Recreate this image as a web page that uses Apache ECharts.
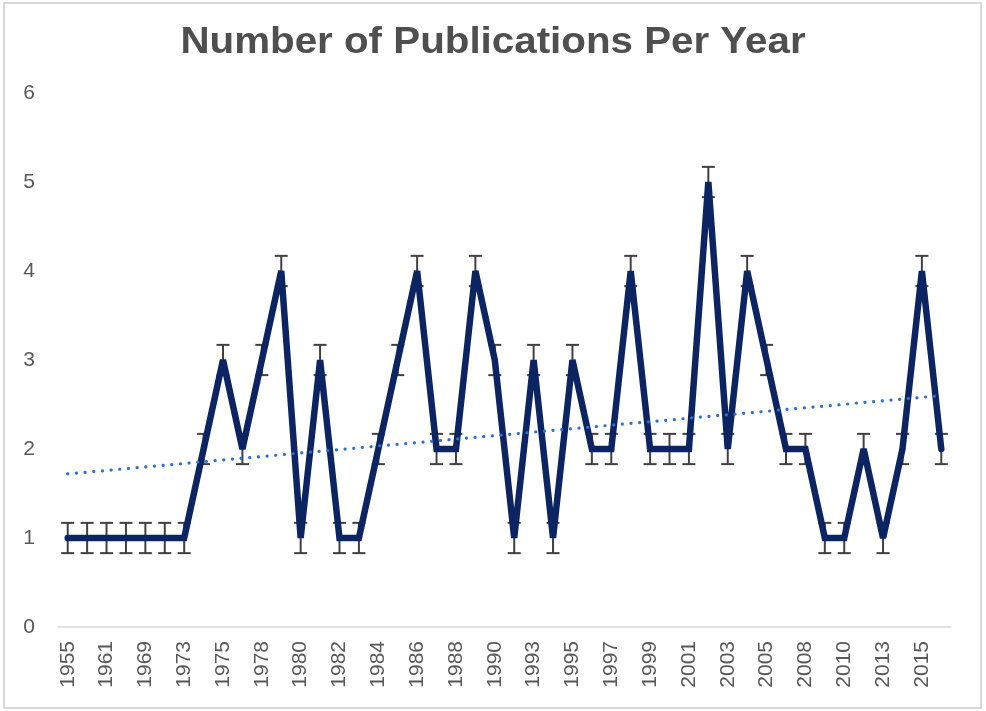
<!DOCTYPE html>
<html>
<head>
<meta charset="utf-8">
<script src="https://cdn.jsdelivr.net/npm/echarts@6/dist/echarts.min.js"></script>
<style>
html,body{margin:0;padding:0;background:#fff;}
#frame{position:absolute;left:3px;top:2px;width:975px;height:703px;border:2px solid #d9d9d9;box-sizing:content-box;}
#chart{position:absolute;left:0;top:0;width:986px;height:711px;}
</style>
</head>
<body>
<div id="frame"></div>
<div id="chart"></div>
<script>
// Categories (years); labels shown on every other category
const years = [
  '1955','1958','1961','1965','1969','1971','1973','1974','1975','1977',
  '1978','1979','1980','1981','1982','1983','1984','1985','1986','1987',
  '1988','1989','1990','1992','1993','1994','1995','1996','1997','1998',
  '1999','2000','2001','2002','2003','2004','2005','2007','2008','2009',
  '2010','2012','2013','2014','2015','2016'
];
// Number of publications per category
const publications = [
  1,1,1,1,1,1,1,2,3,2,
  3,4,1,3,1,1,2,3,4,2,
  2,4,3,1,3,1,3,2,2,4,
  2,2,2,5,2,4,3,2,2,1,
  1,2,1,2,4,2
];
// Fixed error bar amount (+/-)
const errorAmount = [0.17];
// Linear trend line end values (first and last category)
const trendEnds = [1.72, 2.6];
const yTicks = [0, 6, 1]; // min, max, interval
const titleText = 'Number of Publications Per Year';

const chart = echarts.init(document.getElementById('chart'));
const textColor = '#595959';
const fontFam = 'Liberation Sans, Arial, sans-serif';

const errData = publications.map((v, i) => [i, v - errorAmount[0], v + errorAmount[0]]);

chart.setOption({
  animation: false,
  graphic: [{
    type: 'text',
    x: 493, y: 43,
    scaleX: 1.12,
    style: {
      text: titleText,
      font: 'bold 36px ' + fontFam,
      fill: '#4f4f4f',
      align: 'center',
      verticalAlign: 'middle'
    }
  }],
  grid: { left: 58, right: 35, top: 93, bottom: 84, containLabel: false },
  xAxis: {
    type: 'category',
    data: years,
    boundaryGap: true,
    axisLine: { lineStyle: { color: '#d9d9d9', width: 1.5 } },
    axisTick: { show: false },
    axisLabel: {
      interval: 1,
      rotate: 90,
      margin: 14,
      color: textColor,
      fontFamily: fontFam,
      fontSize: 21
    }
  },
  yAxis: {
    type: 'value',
    min: yTicks[0], max: yTicks[1], interval: yTicks[2],
    axisLine: { show: false },
    axisTick: { show: false },
    splitLine: { show: false },
    axisLabel: {
      margin: 23,
      color: textColor,
      fontFamily: fontFam,
      fontSize: 21
    }
  },
  series: [
    {
      type: 'custom',
      name: 'error',
      z: 1,
      data: errData,
      renderItem: function (params, api) {
        const idx = api.value(0);
        const lo = api.coord([idx, api.value(1)]);
        const hi = api.coord([idx, api.value(2)]);
        const hw = 6.5;
        const style = { stroke: '#404040', lineWidth: 2, fill: null };
        return {
          type: 'group',
          children: [
            { type: 'line', shape: { x1: lo[0], y1: lo[1], x2: hi[0], y2: hi[1] }, style: style },
            { type: 'line', shape: { x1: lo[0] - hw, y1: lo[1], x2: lo[0] + hw, y2: lo[1] }, style: style },
            { type: 'line', shape: { x1: hi[0] - hw, y1: hi[1], x2: hi[0] + hw, y2: hi[1] }, style: style }
          ]
        };
      }
    },
    {
      type: 'line',
      name: 'Publications',
      z: 3,
      data: publications,
      symbol: 'none',
      lineStyle: { color: '#0c2461', width: 6.5, join: 'miter', miterLimit: 2, cap: 'round' }
    },
    {
      type: 'line',
      name: 'Trend',
      z: 4,
      data: [[years[0], trendEnds[0]], [years[years.length - 1], trendEnds[1]]],
      symbol: 'none',
      lineStyle: { color: '#2e6fd1', width: 3.2, type: [0.1, 8.6], cap: 'round' }
    }
  ]
});
</script>
</body>
</html>
